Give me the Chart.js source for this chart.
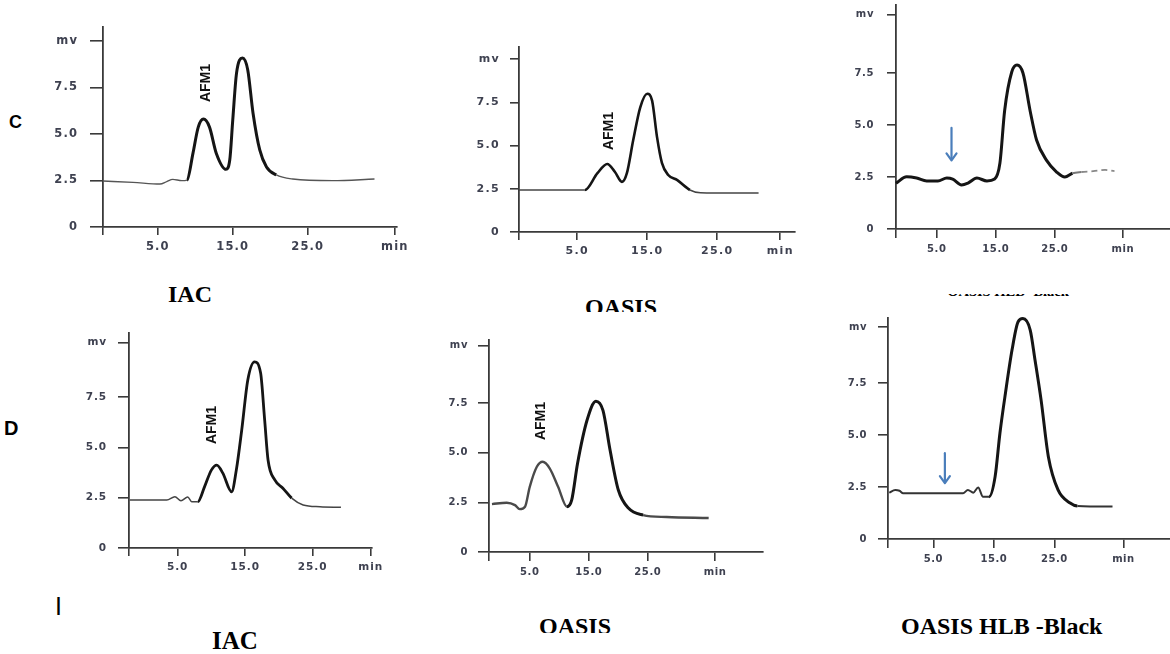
<!DOCTYPE html>
<html>
<head>
<meta charset="utf-8">
<script src="https://cdn.jsdelivr.net/npm/chart.js@4.4.1/dist/chart.umd.min.js"></script>
<style>
  html, body { margin: 0; padding: 0; background: #fff; width: 1170px; height: 654px; overflow: hidden; }
  #fig { position: relative; width: 1170px; height: 654px; }
  .panel { position: absolute; }
  .lbl { position: absolute; white-space: nowrap; color: #000; }
  .title { font-family: "Liberation Serif", "Times New Roman", serif; font-weight: bold; font-size: 24px; line-height: 24px; }
  .sans { font-family: "Liberation Sans", Arial, sans-serif; line-height: 1; }
  .clip { position: absolute; overflow: hidden; }
</style>
</head>
<body>
<div id="fig">
  <div class="lbl sans" style="left:9px;top:113px;font-size:18px;font-weight:bold;">C</div>
  <div class="lbl sans" style="left:4px;top:418px;font-size:20px;font-weight:bold;">D</div>
  <div class="lbl sans" style="left:55px;top:594px;font-size:25px;">I</div>

  <div class="clip" style="left:140px;top:282px;width:100px;height:21px;">
    <div class="lbl title" style="left:0;top:0;width:100px;text-align:center;">IAC</div>
  </div>
  <div class="clip" style="left:561px;top:295px;width:120px;height:17px;">
    <div class="lbl title" style="left:0;top:0;width:120px;text-align:center;">OASIS</div>
  </div>
  <div class="clip" style="left:938px;top:294px;width:140px;height:2px;">
    <div class="lbl title" style="left:0;top:-10px;width:140px;text-align:center;font-size:14.5px;line-height:14.5px;">OASIS HLB -Black</div>
  </div>

  <div class="lbl title" style="left:185px;top:628px;width:100px;text-align:center;font-size:25px;line-height:25px;">IAC</div>
  <div class="clip" style="left:515px;top:614px;width:120px;height:19px;">
    <div class="lbl title" style="left:0;top:0;width:120px;text-align:center;">OASIS</div>
  </div>
  <div class="lbl title" style="left:901px;top:614px;width:200px;text-align:center;">OASIS HLB -Black</div>
</div>

<script>
// retention time (min) / detector response (mv) for each chromatogram
const iacC_time = [-2.3, 1.7, 5.3, 6.2, 7.0, 8.2, 8.9, 9.7, 10.4, 11.1, 11.9, 12.8, 14.1, 14.6, 15.0, 15.5, 16.3, 17.0, 17.7, 18.6, 19.5, 20.8, 23.0, 28.3, 33.9];
const iacC_mv   = [2.47, 2.40, 2.31, 2.44, 2.56, 2.49, 2.52, 3.97, 5.37, 5.80, 5.37, 3.97, 3.10, 3.60, 5.75, 8.26, 9.08, 8.44, 6.13, 4.14, 3.23, 2.80, 2.58, 2.49, 2.58];

const oasisC_time = [-3.3, 6.1, 7.9, 9.3, 10.4, 11.4, 12.1, 13.0, 14.0, 15.0, 15.7, 16.4, 17.1, 18.0, 19.3, 21.1, 22.6, 27.3, 30.9];
const oasisC_mv   = [2.43, 2.43, 3.40, 3.93, 3.47, 2.90, 3.40, 5.30, 7.20, 8.00, 7.60, 5.50, 4.00, 3.30, 3.00, 2.43, 2.27, 2.25, 2.25];

const hlbC_time = [-1.9, -0.1, 1.6, 3.3, 5.2, 6.7, 7.7, 9.2, 10.3, 11.8, 13.5, 14.8, 15.7, 16.5, 17.7, 18.6, 19.6, 20.8, 21.9, 23.6, 25.3, 26.7, 28.0, 29.5, 31.5, 33.5, 35.1];
const hlbC_mv   = [2.20, 2.51, 2.45, 2.31, 2.31, 2.45, 2.40, 2.12, 2.21, 2.45, 2.31, 2.40, 3.17, 5.70, 7.55, 7.88, 7.50, 5.70, 4.28, 3.30, 2.74, 2.50, 2.68, 2.74, 2.78, 2.84, 2.78];

const iacD_time = [-2.1, 3.4, 4.6, 5.5, 6.5, 7.1, 8.0, 9.0, 10.0, 10.8, 11.7, 13.0, 13.7, 14.5, 15.4, 16.4, 17.3, 17.9, 18.4, 19.4, 20.6, 21.9, 23.6, 26.1, 29.2];
const iacD_mv   = [2.38, 2.38, 2.55, 2.35, 2.53, 2.30, 2.30, 3.05, 3.87, 4.12, 3.72, 2.79, 3.87, 5.86, 8.35, 9.25, 8.69, 6.35, 4.37, 3.38, 2.97, 2.48, 2.14, 2.05, 2.02];

const oasisD_time = [-1.4, 1.1, 2.5, 3.3, 4.2, 5.0, 6.2, 7.2, 8.4, 9.8, 11.3, 12.1, 13.1, 14.7, 16.2, 17.4, 18.6, 20.0, 21.7, 24.2, 28.2, 35.3];
const oasisD_mv   = [2.41, 2.48, 2.36, 2.16, 2.28, 3.28, 4.29, 4.54, 4.20, 3.28, 2.28, 2.61, 4.47, 6.63, 7.59, 7.13, 5.13, 3.12, 2.21, 1.86, 1.76, 1.71];

const hlbD_time = [-2.3, -1.3, -0.6, 0.0, 5.0, 9.9, 10.7, 11.6, 12.4, 13.2, 14.2, 15.2, 16.0, 16.9, 18.0, 19.0, 19.8, 21.0, 21.8, 22.8, 24.0, 25.6, 27.6, 28.8, 34.6];
const hlbD_mv   = [2.23, 2.36, 2.32, 2.20, 2.20, 2.20, 2.36, 2.23, 2.48, 2.03, 2.03, 3.00, 5.10, 7.00, 9.10, 10.45, 10.60, 10.05, 8.60, 6.68, 3.96, 2.36, 1.73, 1.59, 1.56];

// axis ticks shared by all six plots; the unit label sits on the last y tick
const yTickValues = [0, 2.5, 5, 7.5];
const yTickLabels = ['0', '2.5', '5.0', '7.5', 'mv'];
const xTickMarks  = [5, 15, 25];
const xTickLabels = ['', '5.0', '15.0', '25.0', 'min'];

// peak annotations [time, mv]
const afm1_iacC   = [11.5, 7.74];
const afm1_oasisC = [9.6, 5.84];
const afm1_iacD   = [10.1, 6.11];
const afm1_oasisD = [6.9, 6.59];

// arrows marking the expected AFM1 window [time, from mv, to mv]
const arrow_hlbC = [7.5, 4.86, 3.30];
const arrow_hlbD = [6.9, 4.13, 2.69];

const Y_W = 70, X_H = 34, PAD_T = 12, PAD_R = 20;

const panels = [
  { t: iacC_time, v: iacC_mv, box: { left: 103, top: 27, bottom: 227, right: 397 }, xMin: -2.3, xMax: 36.9, minAt: 36.6, yMax: 10.75, mvAt: 10.0,
    yTick: 13, yPad: 12, xTick: 8, font: 11.5, spacing: 1.1, thick: [8.5, 21], wThick: 3, wThin: 1.4, cThin: '#555', peak: afm1_iacC },
  { t: oasisC_time, v: oasisC_mv, box: { left: 519, top: 47, bottom: 232, right: 795 }, xMin: -3.3, xMax: 36.1, minAt: 34.0, yMax: 10.7, mvAt: 10.0,
    yTick: 9, yPad: 10, xTick: 8, font: 11, spacing: 1.3, thick: [6, 21.5], wThick: 2.6, wThin: 1.5, cThin: '#444', peak: afm1_oasisC },
  { t: hlbC_time, v: hlbC_mv, box: { left: 896, top: 5, bottom: 229, right: 1170 }, xMin: -1.9, xMax: 44.5, minAt: 36.5, yMax: 10.77, mvAt: 10.3,
    yTick: 9, yPad: 13, xTick: 9, font: 10, spacing: 0.6, thick: [-3, 28.5], wThick: 3, wThin: 2, cThin: '#777', dashFrom: 28.5, arrow: arrow_hlbC },
  { t: iacD_time, v: iacD_mv, box: { left: 129, top: 333, bottom: 548, right: 372 }, xMin: -2.2, xMax: 33.8, minAt: 33.6, yMax: 10.68, mvAt: 10.2,
    yTick: 11, yPad: 11, xTick: 8, font: 10.5, spacing: 0.9, thick: [8, 22.5], wThick: 2.8, wThin: 1.5, cThin: '#444', peak: afm1_iacD },
  { t: oasisD_time, v: oasisD_mv, box: { left: 489, top: 340, bottom: 552, right: 763 }, xMin: -1.9, xMax: 44.5, minAt: 36.4, yMax: 10.67, mvAt: 10.4,
    yTick: 11, yPad: 10, xTick: 9, font: 10, spacing: 0.6, thick: [11, 25], wThick: 3, wThin: 2.4, cThin: '#4a4a4a', peak: afm1_oasisD },
  { t: hlbD_time, v: hlbD_mv, box: { left: 888, top: 318, bottom: 539, right: 1170 }, xMin: -2.5, xMax: 44.1, minAt: 36.4, yMax: 10.63, mvAt: 10.2,
    yTick: 10, yPad: 11, xTick: 9, font: 10, spacing: 0.5, thick: [14, 29], wThick: 3, wThin: 2, cThin: '#333', arrow: arrow_hlbD }
];

const marks = {
  id: 'marks',
  beforeDraw(chart, args, opts) {
    chart.ctx.letterSpacing = (opts.spacing || 0) + 'px';
  },
  afterDatasetsDraw(chart, args, opts) {
    const { ctx, scales: { x, y } } = chart;
    ctx.save();
    ctx.letterSpacing = '0px';
    if (opts.peak) {
      ctx.save();
      ctx.translate(x.getPixelForValue(opts.peak[0]), y.getPixelForValue(opts.peak[1]));
      ctx.rotate(-Math.PI / 2);
      ctx.font = 'bold 14px "Liberation Sans", Arial, sans-serif';
      ctx.fillStyle = '#111';
      ctx.textAlign = 'center';
      ctx.textBaseline = 'middle';
      ctx.fillText('AFM1', 0, 0);
      ctx.restore();
    }
    if (opts.arrow) {
      const px = x.getPixelForValue(opts.arrow[0]);
      const y0 = y.getPixelForValue(opts.arrow[1]);
      const y1 = y.getPixelForValue(opts.arrow[2]);
      ctx.strokeStyle = '#4a7ebb';
      ctx.lineWidth = 2.2;
      ctx.lineCap = 'round';
      ctx.lineJoin = 'round';
      ctx.beginPath(); ctx.moveTo(px, y0); ctx.lineTo(px, y1 - 1); ctx.stroke();
      ctx.beginPath(); ctx.moveTo(px - 5, y1 - 7); ctx.lineTo(px, y1); ctx.lineTo(px + 5, y1 - 7); ctx.stroke();
    }
    ctx.restore();
  }
};

// keep the plot box exactly where the layout puts it: no extra room for edge labels
const noEdgePadding = s => { s.paddingTop = 0; s.paddingBottom = 0; s.paddingLeft = 0; s.paddingRight = 0; };

const fig = document.getElementById('fig');

panels.forEach(P => {
  const b = P.box;
  const w = b.right - b.left + Y_W + PAD_R;
  const h = b.bottom - b.top + PAD_T + X_H;
  const holder = document.createElement('div');
  holder.className = 'panel';
  holder.style.left = (b.left - Y_W) + 'px';
  holder.style.top = (b.top - PAD_T) + 'px';
  const canvas = document.createElement('canvas');
  canvas.width = w;
  canvas.height = h;
  canvas.style.width = w + 'px';
  canvas.style.height = h + 'px';
  holder.appendChild(canvas);
  fig.appendChild(holder);

  const xTicks = [P.xMin, ...xTickMarks, P.minAt];
  const yTicks = [...yTickValues, P.mvAt];
  const inThick = c => c.p0.parsed.x >= P.thick[0] && c.p1.parsed.x <= P.thick[1];
  const dashed = c => P.dashFrom != null && c.p0.parsed.x >= P.dashFrom;
  const tickFont = { family: '"DejaVu Sans", Verdana, sans-serif', size: P.font, weight: 'bold' };
  const tickColor = '#3e4150';

  new Chart(canvas, {
    type: 'line',
    data: {
      datasets: [{
        data: P.t.map((t, i) => ({ x: t, y: P.v[i] })),
        borderColor: P.cThin,
        borderWidth: P.wThin,
        pointRadius: 0,
        cubicInterpolationMode: 'monotone',
        clip: false,
        segment: {
          borderWidth: c => dashed(c) ? 1.8 : (inThick(c) ? P.wThick : P.wThin),
          borderColor: c => dashed(c) ? '#888' : (inThick(c) ? '#151515' : P.cThin),
          borderDash: c => dashed(c) ? [6, 4] : undefined
        }
      }]
    },
    options: {
      responsive: false,
      animation: false,
      events: [],
      layout: { padding: { top: PAD_T, right: PAD_R, left: 0, bottom: 0 } },
      plugins: {
        legend: { display: false },
        tooltip: { enabled: false },
        marks: { spacing: P.spacing, peak: P.peak, arrow: P.arrow }
      },
      scales: {
        x: {
          type: 'linear',
          min: P.xMin,
          max: P.xMax,
          afterBuildTicks: s => { s.ticks = xTicks.map(v => ({ value: v })); },
          afterFit: s => { s.height = X_H; noEdgePadding(s); },
          border: { display: true, color: '#3a3a3a', width: 1.8 },
          grid: { drawOnChartArea: false, drawTicks: true, tickLength: P.xTick, color: '#3a3a3a', lineWidth: 1.6 },
          ticks: {
            autoSkip: false, maxRotation: 0, padding: 5, color: tickColor, font: tickFont,
            callback: (v, i) => xTickLabels[i]
          }
        },
        y: {
          min: 0,
          max: P.yMax,
          afterBuildTicks: s => { s.ticks = yTicks.map(v => ({ value: v })); },
          afterFit: s => { s.width = Y_W; noEdgePadding(s); },
          border: { display: true, color: '#3a3a3a', width: 1.8 },
          grid: { drawOnChartArea: false, drawTicks: true, tickLength: P.yTick, color: '#3a3a3a', lineWidth: 1.6 },
          ticks: {
            autoSkip: false, padding: P.yPad, color: tickColor, font: tickFont,
            callback: (v, i) => yTickLabels[i]
          }
        }
      }
    },
    plugins: [marks]
  });
});
</script>
</body>
</html>
